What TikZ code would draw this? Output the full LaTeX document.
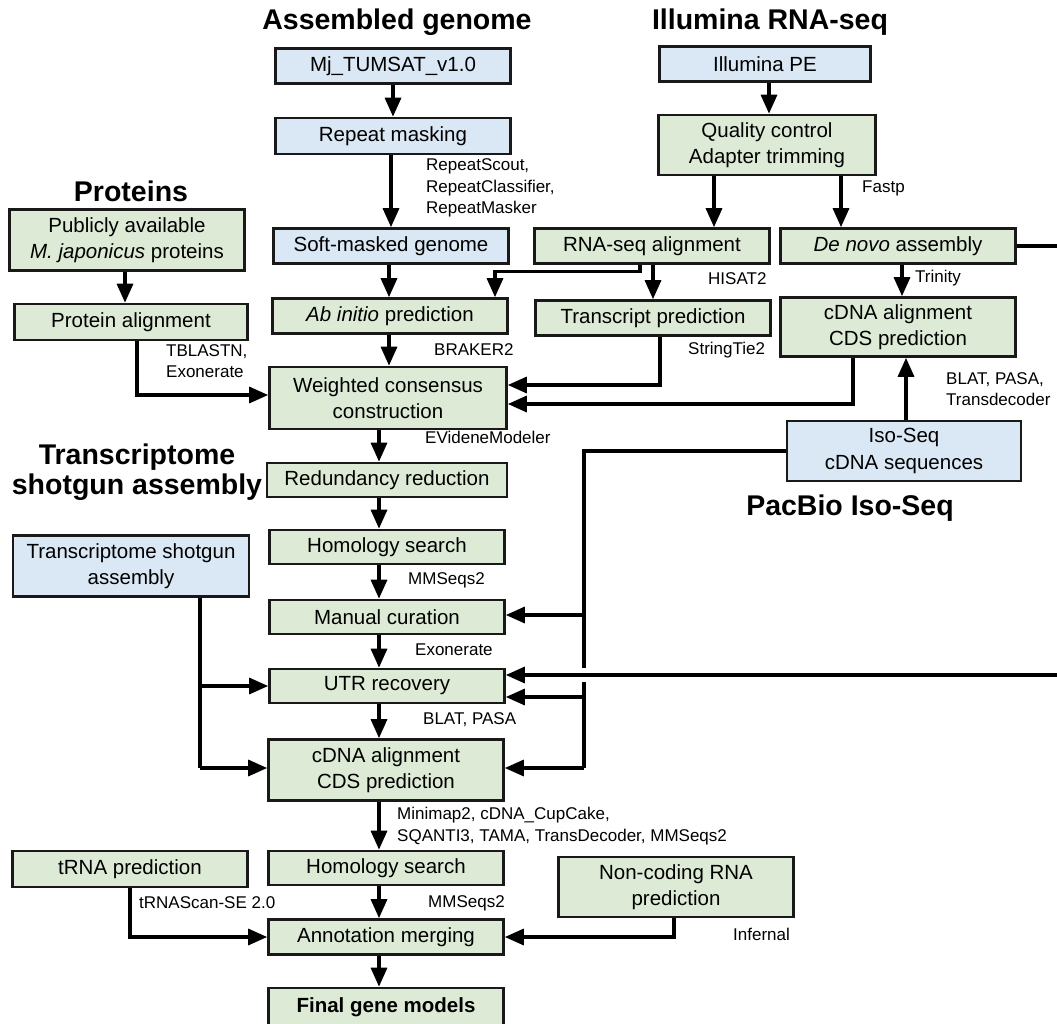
\documentclass[tikz,border=0pt]{standalone}
\usepackage{fontspec}
\setmainfont{Liberation Sans}
\usetikzlibrary{arrows.meta}
\definecolor{gfill}{HTML}{DDEBD6}
\definecolor{bfill}{HTML}{DAE7F4}
\begin{document}
\begin{tikzpicture}[x=1pt,y=-1pt,
 box/.style={draw=black!90, line width=2.6pt, inner sep=0pt, align=center, font=\fontsize{20.5}{26.5}\selectfont, minimum width=235pt, minimum height=35pt},
 gbox/.style={box, fill=gfill},
 bbox/.style={box, fill=bfill},
 conn/.style={line width=3.2pt, draw=black},
 arr/.style={conn, -{Triangle[length=19pt,width=16pt]}},
 lbl/.style={font=\fontsize{17}{21.5}\selectfont, align=left, anchor=west, inner sep=0pt},
 ttl/.style={font=\fontsize{28.5}{30}\selectfont\bfseries, align=center, inner sep=0pt}]
\useasboundingbox (0,0) rectangle (1057,1023);
\clip (0,0) rectangle (1057,1023);
% titles
\node[ttl] (t1) at (397,22) {Assembled genome};
\node[ttl] (t2) at (770,22) {Illumina RNA-seq};
\node[ttl] (t3) at (131,191) {Proteins};
\node[ttl] (t4) at (137,472) {Transcriptome\\shotgun assembly};
\node[ttl] (t5) at (850,508) {PacBio Iso-Seq};
% boxes
\node[bbox] (mj) at (393,66) {Mj\_TUMSAT\_v1.0};
\node[bbox, minimum height=36pt] (rm) at (393,136) {Repeat masking};
\node[bbox] (sm) at (391,246) {Soft-masked genome};
\node[bbox, minimum width=211pt] (pe) at (765,64) {Illumina PE};
\node[gbox, minimum width=217pt, minimum height=60pt] (qc) at (767,145) {Quality control\\Adapter trimming};
\node[gbox] (rna) at (652,246) {RNA-seq alignment};
\node[gbox] (dn) at (898,246) {\textit{De novo} assembly};
\node[gbox, minimum height=61pt] (pub) at (127,240) {Publicly available\\\textit{M. japonicus} proteins};
\node[gbox, minimum width=233pt, minimum height=36pt] (protal) at (131,322) {Protein alignment};
\node[gbox] (ab) at (390,316) {\textit{Ab initio} prediction};
\node[gbox] (tp) at (653,318) {Transcript prediction};
\node[gbox, minimum height=59pt] (cd1) at (898,327) {cDNA alignment\\CDS prediction};
\node[gbox, minimum width=237pt, minimum height=62pt] (wc) at (388,398) {Weighted consensus\\construction};
\node[bbox, minimum width=234pt, minimum height=60pt] (iso) at (904,451) {Iso-Seq\\cDNA sequences};
\node[gbox, minimum width=240pt, minimum height=34pt] (red) at (387,480) {Redundancy reduction};
\node[bbox, minimum width=236pt, minimum height=61pt] (tsa) at (131,566) {Transcriptome shotgun\\assembly};
\node[gbox, minimum height=34pt] (hom) at (387,547) {Homology search};
\node[gbox, minimum height=34pt] (man) at (387,617) {Manual curation};
\node[gbox, minimum height=34pt] (utr) at (387,686) {UTR recovery};
\node[gbox, minimum height=61pt] (cd2) at (386,770) {cDNA alignment\\CDS prediction};
\node[gbox, minimum height=34pt] (hom2) at (386,868) {Homology search};
\node[gbox, minimum height=36pt] (trna) at (130,869) {tRNA prediction};
\node[gbox] (ann) at (386,937) {Annotation merging};
\node[gbox, minimum height=60pt] (nc) at (676,887) {Non-coding RNA\\prediction};
\node[gbox, minimum height=38pt] (fin) at (386,1007) {\textbf{Final gene models}};
% x references
\coordinate (xA) at (393,0);
\coordinate (xB) at (391,0);
\coordinate (xC) at (389,0);
\coordinate (xL) at (379,0);
\coordinate (xP) at (769,0);
\coordinate (xQ) at (714,0);
\coordinate (xR) at (841,0);
\coordinate (xT) at (653,0);
\coordinate (xD) at (902,0);
\coordinate (xI) at (906,0);
\coordinate (xU) at (125,0);
\coordinate (xE) at (853,0);
\coordinate (xF) at (660,0);
\coordinate (xG) at (137,0);
\coordinate (xN) at (674,0);
\coordinate (isoX) at (584,0);
\coordinate (tsaX) at (200,0);
\coordinate (edge) at (1080,0);
% vertical arrows
\draw[arr] (mj.south -| xA) -- (rm.north -| xA);
\draw[arr] (rm.south -| xB) -- (sm.north -| xB);
\draw[arr] (sm.south -| xC) -- (ab.north -| xC);
\draw[arr] (ab.south -| xC) -- (wc.north -| xC);
\draw[arr] (wc.south -| xL) -- (red.north -| xL);
\draw[arr] (red.south -| xL) -- (hom.north -| xL);
\draw[arr] (hom.south -| xL) -- (man.north -| xL);
\draw[arr] (man.south -| xL) -- (utr.north -| xL);
\draw[arr] (utr.south -| xL) -- (cd2.north -| xL);
\draw[arr] (cd2.south -| xL) -- (hom2.north -| xL);
\draw[arr] (hom2.south -| xL) -- (ann.north -| xL);
\draw[arr] (ann.south -| xL) -- (fin.north -| xL);
\draw[arr] (pe.south -| xP) -- (qc.north -| xP);
\draw[arr] (qc.south -| xQ) -- (rna.north -| xQ);
\draw[arr] (qc.south -| xR) -- (dn.north -| xR);
\draw[arr] (rna.south -| xT) -- (tp.north -| xT);
\draw[arr] (dn.south -| xD) -- (cd1.north -| xD);
\draw[arr] (iso.north -| xI) -- (cd1.south -| xI);
\draw[arr] (pub.south -| xU) -- (protal.north -| xU);
% RNA-seq to ab initio
\coordinate (r1) at ([xshift=-12pt]rna.south);
\coordinate (a1) at ([xshift=105pt]ab.north);
\draw[arr] (r1) -- ++(0,7) -| (a1);
% into weighted consensus
\coordinate (w0) at ([yshift=3pt]wc.west);
\coordinate (w1) at ([yshift=13pt]wc.east);
\coordinate (w2) at ([yshift=-6pt]wc.east);
\draw[arr] (protal.south -| xG) |- (w0);
\draw[arr] (tp.south -| xF) |- (w1);
\draw[arr] (cd1.south -| xE) |- (w2);
% Iso-Seq branches
\coordinate (u1) at ([yshift=11pt]utr.east);
\coordinate (u2) at ([yshift=-11pt]utr.east);
\coordinate (m1) at ([yshift=2pt]man.east);
\coordinate (c1) at ([yshift=2pt]cd2.east);
\draw[conn] (iso.west) -| (c1 -| isoX);
\draw[arr] (m1 -| isoX) -- (m1);
\draw[arr] (u2 -| isoX) -- (u2);
\draw[arr] (c1 -| isoX) -- (c1);
% gap where the long line crosses
\coordinate (gap) at (u1 -| isoX);
\draw[white, line width=6pt] ([yshift=7pt]gap) -- ([yshift=-7pt]gap);
% De novo assembly to UTR recovery (via right edge)
\draw[arr] (dn.east) -- (dn.east -| edge) -- (u1 -| edge) -- (u1);
% TSA branches
\coordinate (c2) at ([yshift=2pt]cd2.west);
\draw[conn] (tsa.south -| tsaX) -- (c2 -| tsaX);
\draw[arr] (utr.west -| tsaX) -- (utr.west);
\draw[arr] (c2 -| tsaX) -- (c2);
% tRNA and ncRNA
\draw[arr] (trna.south) |- (ann.west);
\draw[arr] (nc.south -| xN) |- (ann.east);
% labels
\node[lbl] (l1) at (426,188) {RepeatScout,\\RepeatClassifier,\\RepeatMasker};
\node[lbl] (l2) at (862,188) {Fastp};
\node[lbl] (l3) at (708,279) {HISAT2};
\node[lbl] (l4) at (915,278) {Trinity};
\node[lbl] (l5) at (166,361) {TBLASTN,\\Exonerate};
\node[lbl] (l6) at (434,350) {BRAKER2};
\node[lbl] (l7) at (688,350) {StringTie2};
\node[lbl] (l8) at (946,389) {BLAT, PASA,\\Transdecoder};
\node[lbl] (l9) at (425,437) {EVideneModeler};
\node[lbl] (l10) at (408,580) {MMSeqs2};
\node[lbl] (l11) at (415,650) {Exonerate};
\node[lbl] (l12) at (423,720) {BLAT, PASA};
\node[lbl] (l13) at (397,826) {Minimap2, cDNA\_CupCake,\\SQANTI3, TAMA, TransDecoder, MMSeqs2};
\node[lbl] (l14) at (139,903) {tRNAScan-SE 2.0};
\node[lbl] (l15) at (428,903) {MMSeqs2};
\node[lbl] (l16) at (733,934) {Infernal};
\end{tikzpicture}
\end{document}
